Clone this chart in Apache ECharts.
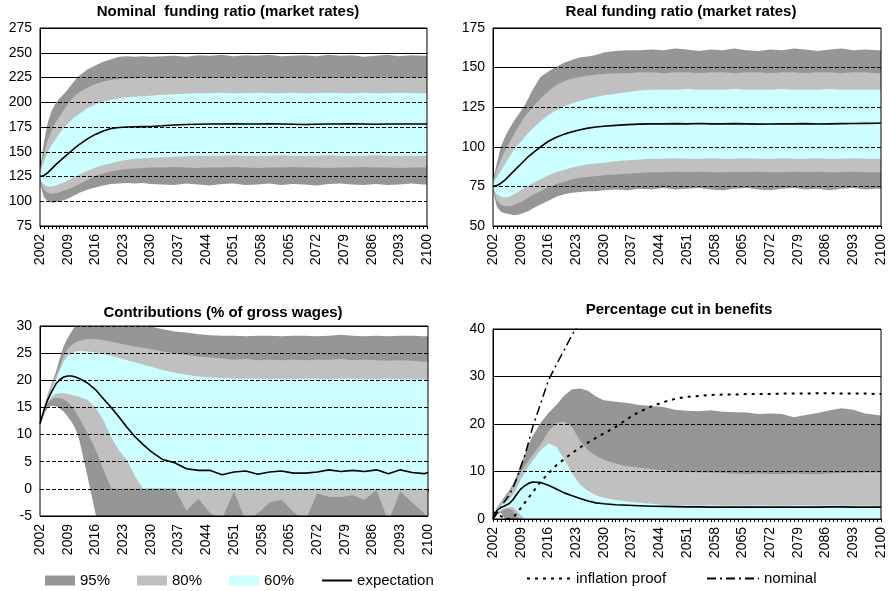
<!DOCTYPE html>
<html>
<head>
<meta charset="utf-8">
<script src="https://cdn.jsdelivr.net/npm/echarts@6/dist/echarts.min.js"></script>
<style>
html, body { margin: 0; padding: 0; background: #fff; }
#main { width: 888px; height: 591px; }
</style>
</head>
<body>
<div id="main"></div>
<script>
// sample years (dense early, sparse on the plateau)
var years = [2002,2003,2004,2005,2006,2007,2008,2009,2010,2011,2012,
  2014,2016,2018,2020,2022,2024,2026,2028,2030,
  2033,2036,2039,2042,2045,2048,2051,2054,2057,2060,2063,2066,2069,2072,2075,2078,2081,2084,2087,2090,2093,2096,2099,2100];

// nominal funding ratio
var nomHi95 = [132,160,180,192,199,204,208,213,218,223,227, 233,237,241,243.5,246,246.5,246,246.5,246,
  246.5,247,246,247.5,247,248,246.5,247.5,247,248,246.5,247,247.5,246.5,248,247,247.5,246,247,248,246.5,247.5,247,247];
var nomHi80 = [130,148,162,172,180,186,192,198,203,207,210, 215,218.5,221,222.5,223.5,224,224.5,224.5,225,
  225,224.5,225,225.5,224.5,225,225.5,224.5,225,225,224.5,225,225.5,225,224.5,225,225.5,224.5,225,225.5,225,224.5,225,225];
var nomHi60 = [128,140,150,157,163,169,174,178,182,185.5,188.5, 194,198,200.5,202.5,204,205,205.5,206,206.5,
  207.5,208,208.5,209,209,209.5,209,209,209.5,209,209,209.5,209,209,209.5,209,209,209.5,209,209,209.5,209,209,209];
var nomLo60 = [122,117,115,115,116,117.5,119,121,123,125,127, 130.5,134,136.5,138.5,140.5,142,143,143.5,144,
  144.5,145,145.5,146,146,146,146.5,146,146,146,146.5,146,146,146,146.5,146,146,146,146.5,146,146,146,146,146];
var nomLo80 = [120,112,108.5,107.5,108,109,110.5,112,113.5,115.5,117.5, 121.5,125.5,128,130,131.5,132.5,133,133.5,134,
  134,134.5,134,133.5,134,134,134.5,134,133.5,134,134,134.5,134,134,133.5,134,134,134.5,134,134,133.5,134,134,134];
var nomLo95 = [118,104,100,98.5,99,100,101,102.5,104.5,106.5,108.5, 111.5,114,116,117.5,118,118.5,118,118.5,117.5,
  117,116.5,118,117,116,117.5,118,116.5,117,118,116.5,117.5,117,116,117.5,118,117,116.5,117.5,116.5,117,118,117,117];
var nomExp = [125,126,129,133,137,140.5,144,147.5,151,154.5,157.5, 163,167.5,171,173.5,174.5,175,175.3,175.4,175.5,
  176.2,177,177.5,177.8,178,178,178.2,178,178,178.2,178,177.8,177.5,177.8,178,178,178.2,178,177.8,178,178,178,178,178];

// real funding ratio
var realHi95 = [79,90,100,106,111,115,119,122.5,126,131,136, 144,147.5,150.5,153,155,156.5,157,158,159.5,
  160.5,161,161,161.5,161,162,161.5,160.5,161.5,161,162,161,160.5,161.5,161,162,161.5,160.5,161.5,162,161,161.5,161,161];
var realHi80 = [78,86,92,97.5,102,106.5,111,115,119,122,125, 130.5,135,139,141.5,143,144,145,145.5,146,
  146.5,146.5,147,147,146.5,147,147,146.5,147,147,146.5,147,147,146.5,147,147,146.5,147,147,146.5,147,147,146.5,146.5];
var realHi60 = [77,81,85,89,93,97,100.5,103,106,109,111.5, 116,120,123,125.5,127.5,129,130.3,131.5,132.5,
  133.5,134.5,135.5,136,136,136,136.5,136,136,136,136.5,136,136,136,136.5,136,136,136,136.5,136,136,136,136,136];
var realLo60 = [73.5,70,68.5,68,68.5,69.5,71,72.5,74,75.5,77, 79.5,82,84,85.5,87,88,89,89.5,90,
  90.8,91.5,92,92.5,92.5,92.8,92.5,92.5,92.8,92.5,92.5,92.8,92.5,92.5,92.8,92.5,92.5,92.8,92.5,92.5,92.8,92.5,92.5,92.5];
var realLo80 = [73,66,63.5,62.5,62.5,63,64,65,66.5,68,69.5, 72,74.5,76.5,78,79.5,80.5,81,81.5,82,
  82.5,83,83.5,84,84,84.3,84,84.3,84,84,84.3,84,84.3,84,84,84.3,84,84.3,84,84,84.3,84,84,84];
var realLo95 = [72,62,59,58,57.5,57,57,57.5,58.5,59.5,61, 63.5,66,68.5,70,71,71.5,72,72,72.5,
  73,72.5,73.5,73,74,73,73.5,74,73,72.5,73.5,74,73,72.5,73.5,74,73,73.5,72.5,73.5,74,73,73.5,73.5];
var realExp = [75,75.5,77,79,81.5,84,86.5,89,91.5,94,96, 100,103.5,106,108,109.5,110.8,111.8,112.5,113,
  113.5,114,114.3,114.5,114.5,114.6,114.5,114.7,114.5,114.5,114.6,114.5,114.3,114.4,114.5,114.5,114.6,114.4,114.5,114.6,114.7,114.8,114.9,115];

// contributions (% of gross wages)
var conHi95 = [12,15,17.5,19.5,21.5,24,26.3,27.8,29,30.2,31, 31.5,31.5,31.5,31.5,31.3,31.2,31,30.3,29.9,
  29.4,29,28.8,28.5,28.3,28.2,28.2,28.1,28.2,28.2,28.1,28.2,28.2,28.1,28.2,28.4,28.2,28.1,28.2,28.1,28.2,28.2,28.1,28.1];
var conHi80 = [12,14.8,17.2,19.2,20.8,22.5,24.5,25.8,26.5,27,27.3, 27.6,27.6,27.4,27.1,26.8,26.5,26.2,26,25.7,
  25.3,25,24.7,24.4,24.2,24,23.8,23.9,23.7,23.8,23.7,23.8,23.7,23.8,23.8,23.9,23.7,23.8,23.7,23.6,23.7,23.6,23.4,23.4];
var conHi60 = [12,14.6,16.8,18.6,20,21.8,23.5,24.5,25,25.3,25.4, 25.3,25.1,24.8,24.5,24.1,23.7,23.3,22.9,22.5,
  21.9,21.4,21,20.7,20.5,20.4,20.3,20.3,20.3,20.2,20.3,20.2,20.3,20.3,20.2,20.3,20.3,20.2,20.2,20.3,20.2,20.2,20.1,20.1];
var conLo60 = [12,14.4,16,17,17.5,17.6,17.6,17.5,17.3,17.1,16.9, 16.4,15,12.7,9.5,7,5.3,2.3,0,0,
  0,0,0,0,0,0,0,0,0,0,0,0,0,0,0,0,0,0,0,0,0,0,0,0];
var conLo80 = [12,14,15.8,16.5,16.8,16.7,16.5,16,15.2,14.2,12.9, 10.3,7.3,3.6,0,0,0,0,0,0,
  0,0,-4,-1.8,-4.5,-5.5,-0.5,-6,-4.5,-2.5,-2,-4.2,-6,-0.8,-1.5,-1.5,-1.2,-2,-0.2,-6,-0.5,-2.5,-4.5,-5.5];
var conLo95 = [12,13.8,15,15.3,15.2,14.8,14.2,13.3,12.3,11,8.8, 2.3,-4.5,-12,-15,-15,-15,-15,-15,-15,
  -15,-15,-15,-15,-15,-15,-15,-15,-15,-15,-15,-15,-15,-15,-15,-15,-15,-15,-15,-15,-15,-15,-15,-15];
var conExp = [12,14.5,16.5,18,19.3,20.1,20.6,20.8,20.8,20.6,20.3, 19.5,18.3,16.6,15,13.2,11.3,9.6,8.2,6.9,
  5.4,4.8,3.7,3.4,3.4,2.6,3.1,3.3,2.7,3.1,3.3,2.9,2.9,3.1,3.5,3.2,3.4,3.2,3.5,2.8,3.5,3,2.8,3];

// percentage cut in benefits
var cutHi95 = [0,2.4,3.6,4.8,5.9,7.3,9.2,11.4,13.5,15.8,17.5, 20.2,22.3,24,26,27.3,27.5,27,25.8,25,
  24.7,24.4,24,23.8,23.6,23,22.8,22.7,22.9,22.6,22.5,22.4,22.1,22.2,22.1,21.4,21.9,22.3,22.9,23.3,23,22.2,21.9,21.8];
var cutHi80 = [0,2.2,3.2,4.2,5.3,6.7,8.2,9.8,11,12.3,13.5, 15.7,18.4,20.2,20.5,19.3,16.5,14.5,13.3,12.5,
  11.7,11.1,10.8,10.5,10.2,10,9.9,9.8,9.8,9.7,9.6,9.5,9.6,9.5,9.5,9.6,9.5,9.4,9.6,9.7,9.7,9.8,9.8,9.8];
var cutHi60 = [0,2,2.8,3.4,4,5,6.5,8.3,9.7,11,12.2, 14.5,15.9,15.2,12.6,9.6,7.2,5.9,5,4.5,
  4,3.7,3.4,3.2,3,2.9,2.9,2.85,2.9,2.85,2.8,2.85,2.9,2.85,2.8,2.9,2.9,2.85,2.9,2.85,2.8,2.85,2.8,2.8];
var cutLo60 = [0,1.3,1.9,2.3,2.5,2.5,1.8,0.9,0,0,0, 0,0,0,0,0,0,0,0,0,
  0,0,0,0,0,0,0,0,0,0,0,0,0,0,0,0,0,0,0,0,0,0,0,0];
var cutLo80 = [0,1.2,1.6,2,2.2,1.8,0.5,0,0,0,0, 0,0,0,0,0,0,0,0,0,
  0,0,0,0,0,0,0,0,0,0,0,0,0,0,0,0,0,0,0,0,0,0,0,0];
var cutLo95 = [0,1,1.3,0,0,0,0,0,0,0,0, 0,0,0,0,0,0,0,0,0,
  0,0,0,0,0,0,0,0,0,0,0,0,0,0,0,0,0,0,0,0,0,0,0,0];
var cutExp = [0,1.8,2.4,2.8,3.2,4,5.2,6.3,7,7.5,7.8, 7.7,7.1,6.3,5.5,4.9,4.3,3.8,3.4,3.2,
  3,2.9,2.8,2.7,2.65,2.6,2.55,2.55,2.5,2.5,2.5,2.5,2.5,2.5,2.5,2.5,2.5,2.5,2.55,2.55,2.5,2.5,2.5,2.5];
var cutInfl = [1.5,1.1,0.6,0.1,0,0.2,1.2,2.3,3.4,4.5,5.6, 7.8,9.6,11.3,12.6,13.9,15.1,16.1,17.1,18,
  19.4,21.1,22.6,23.7,24.6,25.3,25.7,25.9,26.1,26.2,26.2,26.3,26.3,26.3,26.4,26.4,26.4,26.5,26.5,26.4,26.4,26.4,26.3,26.3];
var cutNom = [0,1.2,2.5,3.8,4.9,6.5,8.5,11,13.3,16.2,19.3, 24.2,29.2,32.5,35.6,38.8,41.5,44];

var titles = ['Nominal  funding ratio (market rates)', 'Real funding ratio (market rates)',
  'Contributions (% of gross wages)', 'Percentage cut in benefits'];
var yRanges = [[75, 275, 25], [50, 175, 25], [-5, 30, 5], [0, 40, 10]];

var FONT = 'Liberation Sans';
var DARK = '#969696', LIGHT = '#c0c0c0', CYAN = '#ccffff';

var grids = [
  {left: 40, top: 28, width: 387, height: 198},
  {left: 493, top: 28, width: 388, height: 198},
  {left: 40, top: 326, width: 388, height: 190},
  {left: 493, top: 329, width: 388, height: 190}
];
var titlePos = [[228, 4], [681, 4], [223, 305], [679, 302]];

function pairs(vals) {
  var out = [];
  for (var i = 0; i < vals.length; i++) out.push([years[i], vals[i]]);
  return out;
}

function band(idx, name, vals, color) {
  return {
    name: name, type: 'line', xAxisIndex: idx, yAxisIndex: idx,
    data: pairs(vals), symbol: 'none', silent: true,
    lineStyle: {width: 0}, itemStyle: {color: color},
    areaStyle: {color: color, opacity: 1, origin: 'start'}
  };
}

function fan(idx, hi95, hi80, hi60, lo60, lo80, lo95) {
  return [
    band(idx, '95%', hi95, DARK),
    band(idx, '80%', hi80, LIGHT),
    band(idx, '60%', hi60, CYAN),
    band(idx, '80%', lo60, LIGHT),
    band(idx, '95%', lo80, DARK),
    band(idx, 'floor', lo95, '#ffffff')
  ];
}

function line(idx, name, vals, type, width) {
  return {
    name: name, type: 'line', xAxisIndex: idx, yAxisIndex: idx,
    data: pairs(vals), symbol: 'none', silent: true, z: 8,
    itemStyle: {color: '#000'},
    lineStyle: {color: '#000', width: width, type: type}
  };
}

var series = [].concat(
  fan(0, nomHi95, nomHi80, nomHi60, nomLo60, nomLo80, nomLo95),
  fan(1, realHi95, realHi80, realHi60, realLo60, realLo80, realLo95),
  fan(2, conHi95, conHi80, conHi60, conLo60, conLo80, conLo95),
  fan(3, cutHi95, cutHi80, cutHi60, cutLo60, cutLo80, cutLo95),
  [
    line(0, 'expectation', nomExp, 'solid', 1.6),
    line(1, 'expectation', realExp, 'solid', 1.6),
    line(2, 'expectation', conExp, 'solid', 1.6),
    line(3, 'expectation', cutExp, 'solid', 1.6),
    line(3, 'inflation proof', cutInfl, [3, 5], 2),
    line(3, 'nominal', cutNom, [9, 4, 2, 4], 1.5)
  ]
);

var xAxes = [], yAxes = [], gridOpts = [], titleOpts = [];
for (var i = 0; i < 4; i++) {
  gridOpts.push(Object.assign({show: true, borderColor: '#000', borderWidth: 1, z: 10,
    backgroundColor: 'transparent'}, grids[i]));
  titleOpts.push({
    text: titles[i], left: titlePos[i][0], top: titlePos[i][1], textAlign: 'center', padding: 0,
    textStyle: {fontFamily: FONT, fontSize: 15, fontWeight: 'bold', color: '#000'}
  });
  xAxes.push({
    type: 'value', gridIndex: i, min: 2002, max: 2100, interval: 7,
    axisLine: {lineStyle: {color: '#000', width: 1}},
    axisTick: {length: 3, lineStyle: {color: '#000'}},
    minorTick: {show: true, splitNumber: 7, length: 3, lineStyle: {color: '#000'}},
    splitLine: {show: false},
    axisLabel: {rotate: 90, margin: 8, color: '#000', fontFamily: FONT, fontSize: 14,
      formatter: function (v) { return String(v); }}
  });
}
// axes carrying data + solid gridlines under the bands
for (var i = 0; i < 4; i++) {
  yAxes.push({
    type: 'value', gridIndex: i, min: yRanges[i][0], max: yRanges[i][1], interval: yRanges[i][2],
    axisLine: {show: true, lineStyle: {color: '#000'}},
    axisTick: {show: false},
    splitLine: {lineStyle: {color: '#000', width: 1}},
    axisLabel: {margin: 8, color: '#000', fontFamily: FONT, fontSize: 14}
  });
}
// dashed gridlines drawn over the bands
for (var i = 0; i < 4; i++) {
  yAxes.push({
    type: 'value', gridIndex: i, min: yRanges[i][0], max: yRanges[i][1], interval: yRanges[i][2],
    position: 'left', z: 5,
    axisLine: {show: false}, axisTick: {show: false}, axisLabel: {show: false},
    splitLine: {lineStyle: {color: '#000', width: 1, type: [4, 2]}}
  });
}

var legendText = {fontFamily: FONT, fontSize: 15, color: '#000'};
var noDot = {opacity: 0};

var chart = echarts.init(document.getElementById('main'), null, {renderer: 'canvas'});
chart.setOption({
  backgroundColor: '#fff',
  animation: false,
  title: titleOpts,
  grid: gridOpts,
  xAxis: xAxes,
  yAxis: yAxes,
  legend: [
    {left: 40, top: 568, itemWidth: 30, itemHeight: 10, itemGap: 27, selectedMode: false,
      textStyle: legendText,
      data: [{name: '95%', icon: 'rect'}, {name: '80%', icon: 'rect'}, {name: '60%', icon: 'rect'},
        {name: 'expectation', itemStyle: noDot}]},
    {left: 521, top: 566, itemWidth: 44, itemHeight: 10, selectedMode: false,
      textStyle: legendText, data: [{name: 'inflation proof', itemStyle: noDot}]},
    {left: 701, top: 566, itemWidth: 52, itemHeight: 10, selectedMode: false,
      textStyle: legendText, data: [{name: 'nominal', itemStyle: noDot}]}
  ],
  series: series
});
</script>
</body>
</html>
